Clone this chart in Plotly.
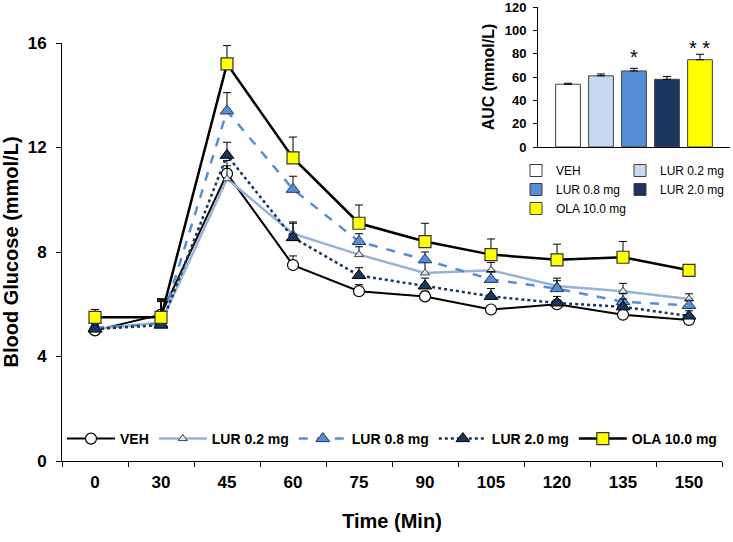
import plotly.graph_objects as go

# ---------------- data ----------------
times = ["0", "30", "45", "60", "75", "90", "105", "120", "135", "150"]

veh = [5.0, 5.6, 11.0, 7.5, 6.5, 6.3, 5.8, 6.0, 5.6, 5.4]
veh_err = [0.15, 0.6, 0.5, 0.35, 0.25, 0.2, 0.15, 0.15, 0.15, 0.15]
lur02 = [5.05, 5.3, 10.8, 8.7, 7.9, 7.2, 7.3, 6.7, 6.5, 6.2]
lur02_err = [0.15, 0.9, 0.5, 0.4, 0.3, 0.4, 0.3, 0.3, 0.3, 0.2]
lur08 = [5.1, 5.25, 13.4, 10.4, 8.4, 7.7, 6.95, 6.6, 6.1, 5.95]
lur08_err = [0.15, 0.9, 0.7, 0.5, 0.3, 0.3, 0.3, 0.3, 0.3, 0.2]
lur20 = [5.05, 5.2, 11.7, 8.55, 7.1, 6.7, 6.3, 6.05, 5.9, 5.55]
lur20_err = [0.15, 0.9, 0.5, 0.6, 0.3, 0.3, 0.3, 0.25, 0.3, 0.2]
ola = [5.5, 5.5, 15.2, 11.6, 9.1, 8.4, 7.9, 7.7, 7.8, 7.3]
ola_err = [0.3, 0.7, 0.7, 0.8, 0.7, 0.7, 0.6, 0.6, 0.6, 0.1]

auc_groups = ["VEH", "LUR 0.2 mg", "LUR 0.8 mg", "LUR 2.0 mg", "OLA 10.0 mg"]
auc = [53.8, 61.0, 65.2, 58.0, 74.8]
auc_err = [0.8, 1.6, 2.2, 2.4, 4.7]
auc_stars = ["", "", "*", "", "* *"]
auc_star_y = [None, None, 77.5, None, 84.5]

y_ticks = [0, 4, 8, 12, 16]
auc_ticks = [0, 20, 40, 60, 80, 100, 120]

FONT = "Liberation Sans, Arial, sans-serif"

# ---------------- figure ----------------
fig = go.Figure()

series = [
    ("VEH", veh, veh_err,
     dict(color="black", width=2, dash="solid"),
     dict(symbol="circle", size=11, color="white", line=dict(color="black", width=1.2))),
    ("LUR 0.2 mg", lur02, lur02_err,
     dict(color="#95B3D7", width=2.5, dash="solid"),
     dict(symbol="triangle-up", size=8, color="#DCE6F2", line=dict(color="#404040", width=1))),
    ("LUR 0.8 mg", lur08, lur08_err,
     dict(color="#558ED5", width=2.5, dash="dash"),
     dict(symbol="triangle-up", size=12, color="#558ED5", line=dict(color="#1F3864", width=1))),
    ("LUR 2.0 mg", lur20, lur20_err,
     dict(color="#17375E", width=2.5, dash="dot"),
     dict(symbol="triangle-up", size=12, color="#17375E", line=dict(color="black", width=1))),
    ("OLA 10.0 mg", ola, ola_err,
     dict(color="black", width=2.5, dash="solid"),
     dict(symbol="square", size=12, color="#FFFF00", line=dict(color="#333333", width=1.2))),
]

for name, vals, errs, line, marker in series:
    fig.add_trace(go.Scatter(
        x=times, y=vals, name=name, mode="lines+markers",
        line=line, marker=marker,
        error_y=dict(type="data", array=errs, arrayminus=[0] * len(errs),
                     symmetric=False, color="black", thickness=1, width=4),
        xaxis="x", yaxis="y", legend="legend",
    ))

# inset bars
bar_colors = ["#FFFFFF", "#C6D9F1", "#558ED5", "#17375E", "#FFFF00"]
bar_legends = ["legend2", "legend3", "legend2", "legend3", "legend2"]
for g, v, e, c, lg in zip(auc_groups, auc, auc_err, bar_colors, bar_legends):
    fig.add_trace(go.Bar(
        x=[g], y=[v], name=g, width=0.75,
        marker=dict(color=c, line=dict(color="#404040", width=1)),
        error_y=dict(type="data", array=[e], arrayminus=[0], symmetric=False,
                     color="black", thickness=1, width=4),
        xaxis="x2", yaxis="y2", legend=lg,
    ))

for g, s, sy in zip(auc_groups, auc_stars, auc_star_y):
    if s:
        fig.add_annotation(x=g, y=sy, xref="x2", yref="y2", text=s, showarrow=False,
                           font=dict(size=20, color="black", family=FONT),
                           yanchor="middle")

W, H = 733, 542
ml, mr, mt, mb = 62, 3, 7, 81
pw = W - ml - mr
ph = H - mt - mb

def px_x(p):
    return (p - ml) / pw

def px_y(p):
    return (H - mb - p) / ph

fig.update_layout(
    width=W, height=H,
    margin=dict(l=ml, r=mr, t=mt, b=mb, pad=0, autoexpand=False),
    paper_bgcolor="white", plot_bgcolor="white",
    font=dict(family=FONT, color="black"),
    barmode="overlay",
    xaxis=dict(
        type="category", domain=[0, px_x(722)], range=[-0.5, 9.5],
        tickson="boundaries", ticks="outside", ticklen=5, tickcolor="black",
        showline=True, linecolor="black", linewidth=1, showgrid=False, zeroline=False,
        tickfont=dict(size=17, weight="bold"), ticklabelstandoff=6,
        title=dict(text="Time (Min)", font=dict(size=20, weight="bold"), standoff=22),
        anchor="y", automargin=False,
    ),
    yaxis=dict(
        domain=[0, px_y(43)], range=[0, 16], tickvals=y_ticks,
        ticks="outside", ticklen=5, tickcolor="black",
        showline=True, linecolor="black", linewidth=1, showgrid=False, zeroline=False,
        tickfont=dict(size=17, weight="bold"), ticklabelstandoff=6,
        title=dict(text="Blood Glucose (mmol/L)", font=dict(size=20, weight="bold"), standoff=10),
        anchor="x", automargin=False, ticklabeloverflow="allow",
    ),
    xaxis2=dict(
        domain=[px_x(538), 1.0], range=[-0.91, 4.91], type="category",
        showticklabels=False, ticks="", showline=True, linecolor="black", linewidth=1,
        showgrid=False, zeroline=False, anchor="y2", automargin=False,
    ),
    yaxis2=dict(
        domain=[px_y(147), 1.0], range=[0, 120], tickvals=auc_ticks,
        ticks="outside", ticklen=4, tickcolor="black",
        showline=True, linecolor="black", linewidth=1, showgrid=False, zeroline=False,
        tickfont=dict(size=13, weight="bold"), ticklabelstandoff=4,
        title=dict(text="AUC (mmol/L)", font=dict(size=16, weight="bold"), standoff=6),
        anchor="x2", automargin=False, ticklabeloverflow="allow",
    ),
    legend=dict(
        orientation="h", x=0.0, xanchor="left", y=px_y(439), yanchor="middle",
        font=dict(size=14, weight="bold"), bgcolor="rgba(0,0,0,0)", traceorder="normal",
        itemwidth=48,
    ),
    legend2=dict(
        orientation="v", x=px_x(516), xanchor="left", y=px_y(156), yanchor="top",
        font=dict(size=12), bgcolor="rgba(0,0,0,0)", tracegroupgap=0,
    ),
    legend3=dict(
        orientation="v", x=px_x(620), xanchor="left", y=px_y(156), yanchor="top",
        font=dict(size=12), bgcolor="rgba(0,0,0,0)", tracegroupgap=0,
    ),
)

fig.write_html("out.html", post_script="document.body.style.margin='0';",
               config={"displayModeBar": False})
